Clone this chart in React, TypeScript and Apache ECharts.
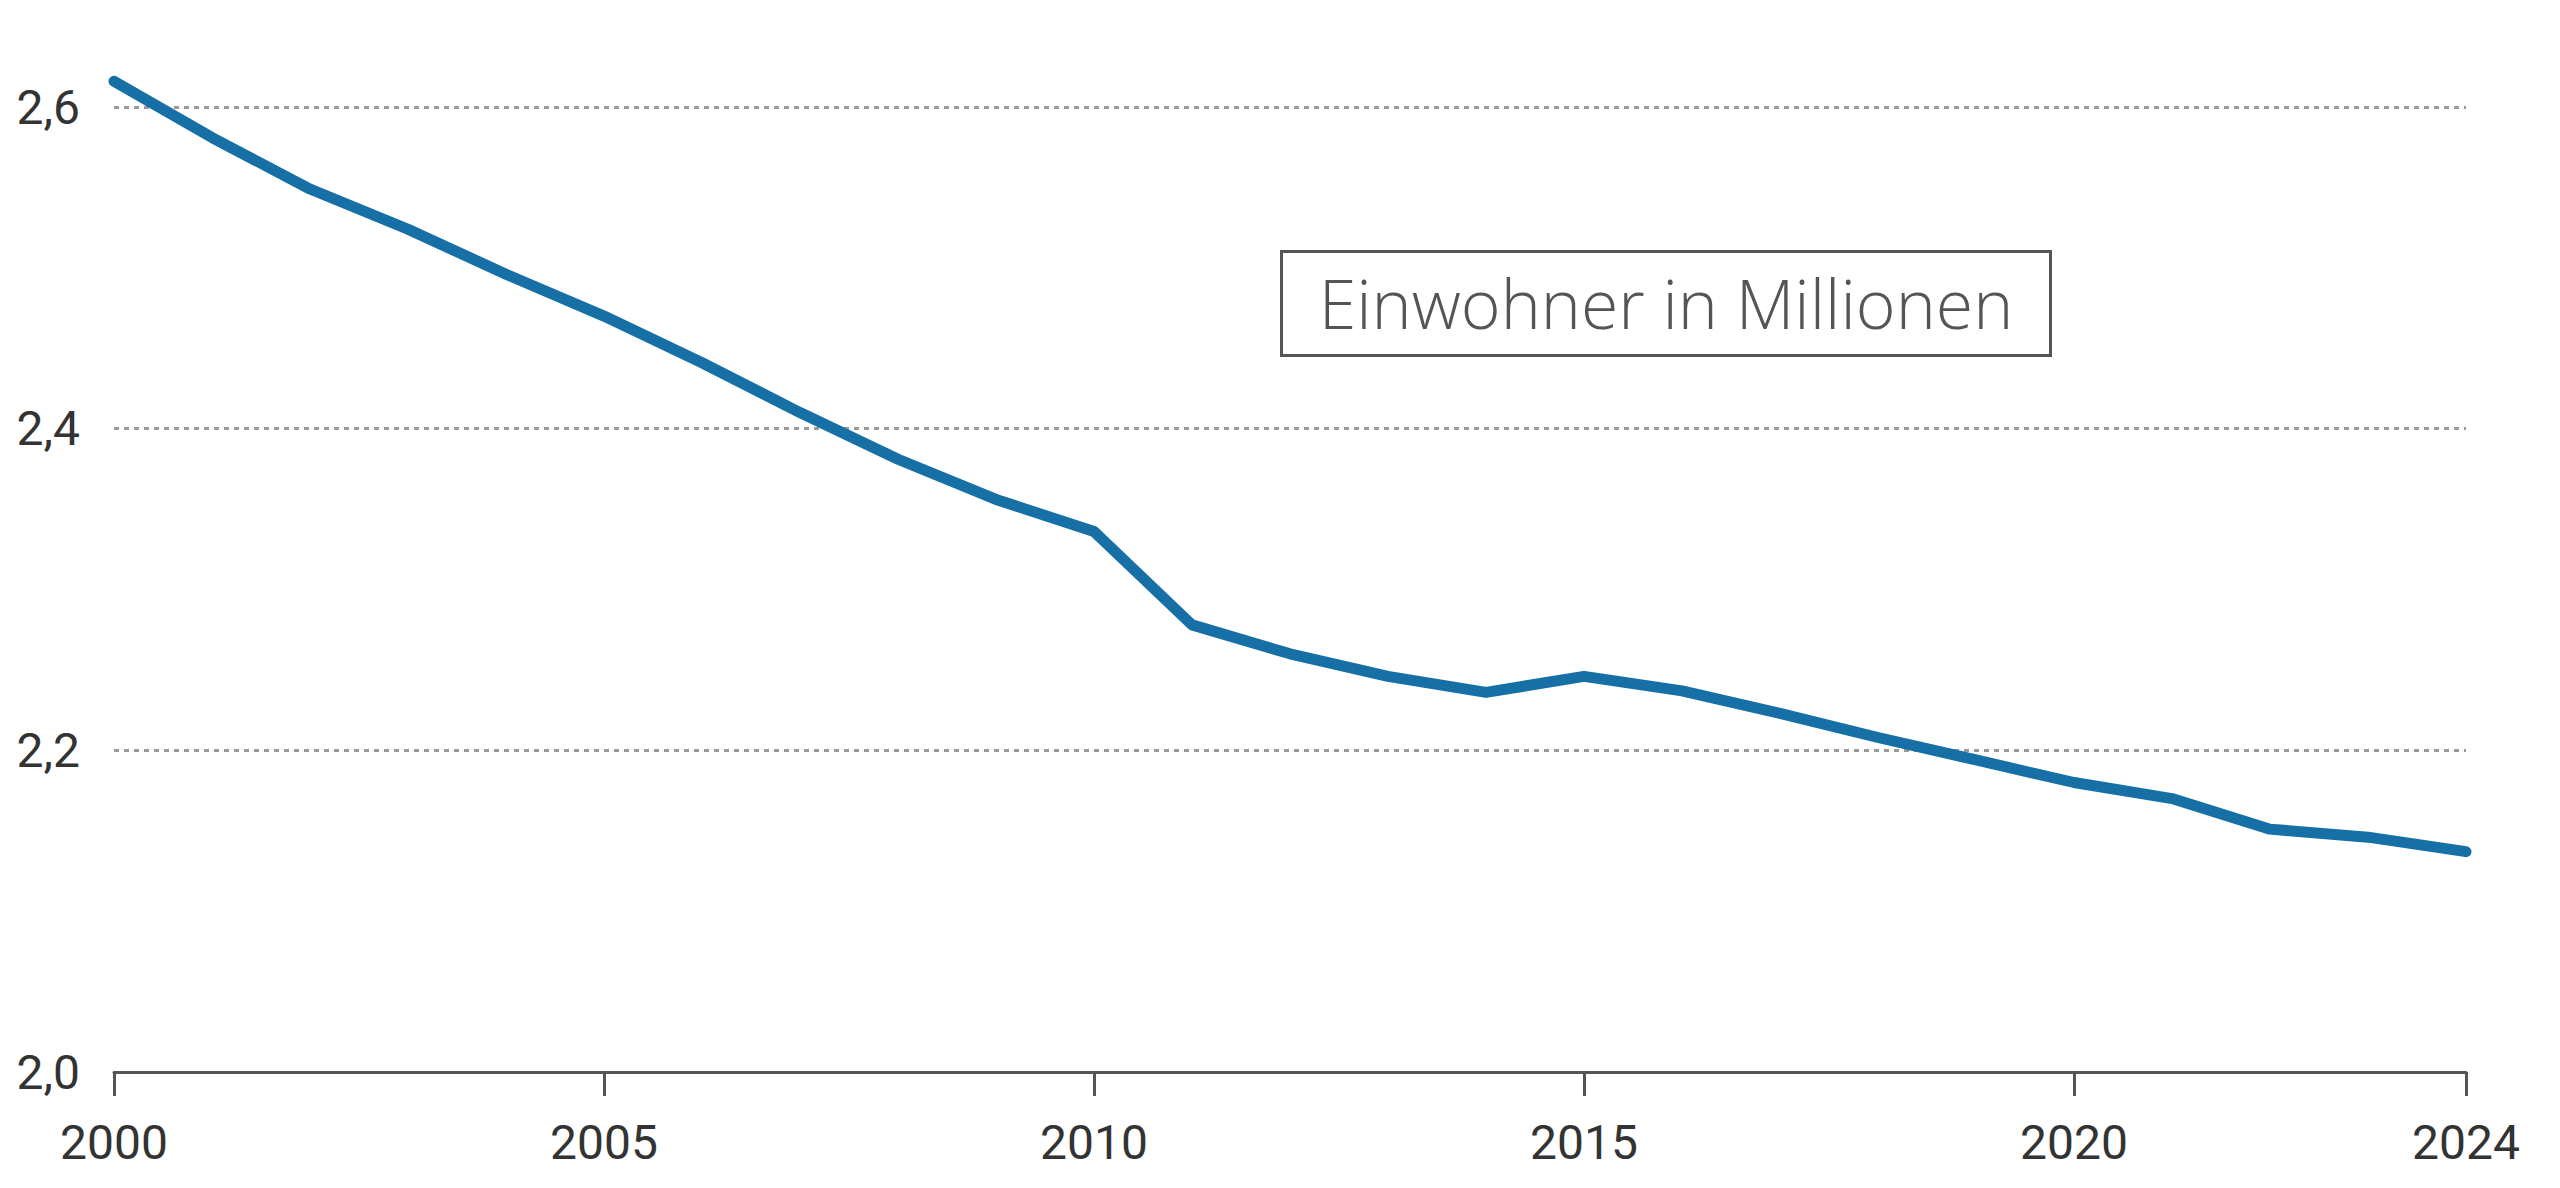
import React, { useEffect, useRef } from "react";
import * as echarts from "echarts";

const years = [2000, 2001, 2002, 2003, 2004, 2005, 2006, 2007, 2008, 2009, 2010, 2011, 2012, 2013, 2014, 2015, 2016, 2017, 2018, 2019, 2020, 2021, 2022, 2023, 2024];
const population = [2.616, 2.581, 2.549, 2.524, 2.496, 2.470, 2.441, 2.410, 2.381, 2.356, 2.336, 2.278, 2.260, 2.246, 2.236, 2.246, 2.237, 2.223, 2.208, 2.194, 2.180, 2.170, 2.151, 2.146, 2.137];
const xTickYears = [2000, 2005, 2010, 2015, 2020, 2024];
const yTicks = [2.0, 2.2, 2.4, 2.6];
const seriesName = "Einwohner in Millionen";

export default function App() {
  const ref = useRef<HTMLDivElement>(null);
  useEffect(() => {
    document.body.style.margin = "0";
    const chart = echarts.init(ref.current!, undefined, { renderer: "svg" });
    const axisColor = "#555555";
    chart.setOption({
      animation: false,
      backgroundColor: "#ffffff",
      grid: { left: 114, right: 94, top: 107, bottom: 116, containLabel: false },
      xAxis: {
        type: "value",
        min: years[0],
        max: years[years.length - 1],
        axisLine: { show: true, lineStyle: { color: axisColor, width: 3 } },
        axisTick: { show: true, length: 24, lineStyle: { color: axisColor, width: 3 }, customValues: xTickYears },
        axisLabel: {
          customValues: xTickYears,
          formatter: (v: number) => String(v),
          color: "#333333",
          fontFamily: "Roboto",
          fontSize: 48,
          margin: 46,
        },
        splitLine: { show: false },
      },
      yAxis: {
        type: "value",
        min: yTicks[0],
        max: yTicks[yTicks.length - 1],
        interval: 0.2,
        axisLine: { show: false },
        axisTick: { show: false },
        axisLabel: {
          formatter: (v: number) => v.toFixed(1).replace(".", ","),
          color: "#333333",
          fontFamily: "Roboto",
          fontSize: 48,
          margin: 34,
        },
        splitLine: { show: true, lineStyle: { color: "#9a9a9a", width: 3, type: [5, 5] } },
      },
      graphic: [
        {
          type: "group",
          left: 1280,
          top: 250,
          children: [
            { type: "rect", shape: { x: 0, y: 0, width: 769, height: 104 }, style: { fill: "#ffffff", stroke: "#555555", lineWidth: 3 } },
            {
              type: "text",
              x: 384.5,
              y: 51,
              style: { text: seriesName, fill: "#555555", font: "300 68px 'Open Sans'", align: "center", verticalAlign: "middle" },
            },
          ],
        },
      ],
      series: [
        {
          name: seriesName,
          type: "line",
          data: years.map((y, i) => [y, population[i]]),
          showSymbol: false,
          symbol: "none",
          clip: false,
          smooth: false,
          lineStyle: { color: "#1670a5", width: 11, cap: "round", join: "round" },
        },
      ],
    });
    return () => chart.dispose();
  }, []);
  return <div ref={ref} style={{ width: 2560, height: 1188 }} />;
}
